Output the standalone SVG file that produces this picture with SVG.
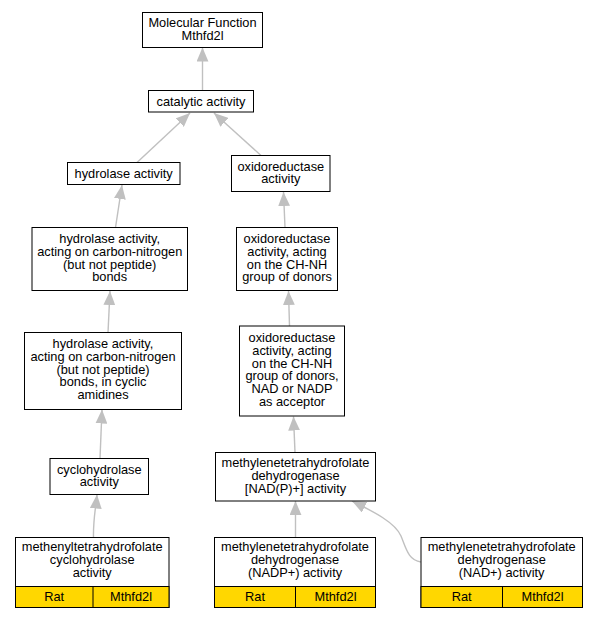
<svg xmlns="http://www.w3.org/2000/svg" width="597" height="619" viewBox="0 0 597 619">
<defs>
<marker id="ah" markerUnits="userSpaceOnUse" markerWidth="14" markerHeight="12" viewBox="0 0 13 11" refX="13" refY="5.5" orient="auto">
<path d="M0,0 L13,5.5 L0,11 z" fill="#c0c0c0"/>
</marker>
<style>
.n rect{fill:#fff;stroke:#000;stroke-width:1}
.n rect.y{fill:#ffd700;stroke:#000;stroke-width:1}
.d{stroke:#000;stroke-width:1}
text{font-family:"Liberation Sans",Arial,sans-serif;font-size:12.8px;text-anchor:middle;fill:#000}
.e path{fill:none;stroke:#c0c0c0;stroke-width:1.4;marker-end:url(#ah)}
</style>
</defs>
<rect width="597" height="619" fill="#fff"/>
<g class="e" id="edges">
<path d="M202.5,90.5 L202.5,47.5"/>
<path d="M137,162.5 L190,113"/>
<path d="M261,155.5 L214,113"/>
<path d="M115.5,227.5 L122,185"/>
<path d="M285,227.5 L283.5,192"/>
<path d="M108,332.5 L110,291"/>
<path d="M289.5,326 L288.5,291"/>
<path d="M100,458.5 L102,409.5"/>
<path d="M295,452.5 L293.5,416.5"/>
<path d="M93.5,537.5 C93,520 96,506 97,494.5"/>
<path d="M295.5,537.5 L295.5,501"/>
<path d="M421,562 C408,560 406,548 401,536 C395,522 372,511 352,501"/>
</g>
<g class="n" id="mf">
<rect x="142.5" y="12.5" width="120" height="35"/>
<text x="202.5" y="27">Molecular Function</text>
<text x="202.5" y="40">Mthfd2l</text>
</g>
<g class="n" id="catalytic">
<rect x="148.5" y="90.5" width="105" height="21.5"/>
<text x="201" y="105.5">catalytic activity</text>
</g>
<g class="n" id="hydrolase">
<rect x="67.5" y="162.5" width="112.5" height="22"/>
<text x="123.7" y="177.5">hydrolase activity</text>
</g>
<g class="n" id="oxidoreductase">
<rect x="231.5" y="155.5" width="98.5" height="36"/>
<text x="280.8" y="170.5">oxidoreductase</text>
<text x="280.8" y="183.3">activity</text>
</g>
<g class="n" id="hcn">
<rect x="32" y="227.5" width="155.5" height="63"/>
<text x="109.7" y="243">hydrolase activity,</text>
<text x="109.7" y="255.8">acting on carbon-nitrogen</text>
<text x="109.7" y="268.6">(but not peptide)</text>
<text x="109.7" y="281.4">bonds</text>
</g>
<g class="n" id="chnh">
<rect x="236.5" y="227.5" width="101" height="63"/>
<text x="287" y="243">oxidoreductase</text>
<text x="287" y="255.8">activity, acting</text>
<text x="287" y="268.6">on the CH-NH</text>
<text x="287" y="281.4">group of donors</text>
</g>
<g class="n" id="cyclic">
<rect x="24.5" y="332.5" width="157" height="77"/>
<text x="103" y="348">hydrolase activity,</text>
<text x="103" y="360.8">acting on carbon-nitrogen</text>
<text x="103" y="373.6">(but not peptide)</text>
<text x="103" y="386.4">bonds, in cyclic</text>
<text x="103" y="399.2">amidines</text>
</g>
<g class="n" id="acceptor">
<rect x="239.5" y="326" width="105" height="90"/>
<text x="292" y="342">oxidoreductase</text>
<text x="292" y="354.8">activity, acting</text>
<text x="292" y="367.6">on the CH-NH</text>
<text x="292" y="380.4">group of donors,</text>
<text x="292" y="393.2">NAD or NADP</text>
<text x="292" y="406">as acceptor</text>
</g>
<g class="n" id="cyclohydrolase">
<rect x="50" y="458.5" width="98.5" height="36"/>
<text x="99.3" y="473.5">cyclohydrolase</text>
<text x="99.3" y="486.3">activity</text>
</g>
<g class="n" id="nadp_plus">
<rect x="215.5" y="452.5" width="160" height="48.5"/>
<text x="295.5" y="467">methylenetetrahydrofolate</text>
<text x="295.5" y="479.8">dehydrogenase</text>
<text x="295.5" y="492.6">[NAD(P)+] activity</text>
</g>
<g class="n" id="methenyl">
<rect x="15.5" y="537.5" width="153.5" height="70"/>
<rect class="y" x="15.5" y="586.5" width="153.5" height="21"/>
<line class="d" x1="93" y1="586.5" x2="93" y2="607.5"/>
<text x="92.2" y="551">methenyltetrahydrofolate</text>
<text x="92.2" y="563.8">cyclohydrolase</text>
<text x="92.2" y="576.6">activity</text>
<text x="54.2" y="600.5">Rat</text>
<text x="131" y="600.5">Mthfd2l</text>
</g>
<g class="n" id="nadp">
<rect x="214.5" y="537.5" width="161" height="70"/>
<rect class="y" x="214.5" y="586.5" width="161" height="21"/>
<line class="d" x1="295.5" y1="586.5" x2="295.5" y2="607.5"/>
<text x="295" y="551">methylenetetrahydrofolate</text>
<text x="295" y="563.8">dehydrogenase</text>
<text x="295" y="576.6">(NADP+) activity</text>
<text x="255" y="600.5">Rat</text>
<text x="335.5" y="600.5">Mthfd2l</text>
</g>
<g class="n" id="nad">
<rect x="421" y="537.5" width="161.5" height="70"/>
<rect class="y" x="421" y="586.5" width="161.5" height="21"/>
<line class="d" x1="502.5" y1="586.5" x2="502.5" y2="607.5"/>
<text x="501.7" y="551">methylenetetrahydrofolate</text>
<text x="501.7" y="563.8">dehydrogenase</text>
<text x="501.7" y="576.6">(NAD+) activity</text>
<text x="461.7" y="600.5">Rat</text>
<text x="542.5" y="600.5">Mthfd2l</text>
</g>
</svg>
